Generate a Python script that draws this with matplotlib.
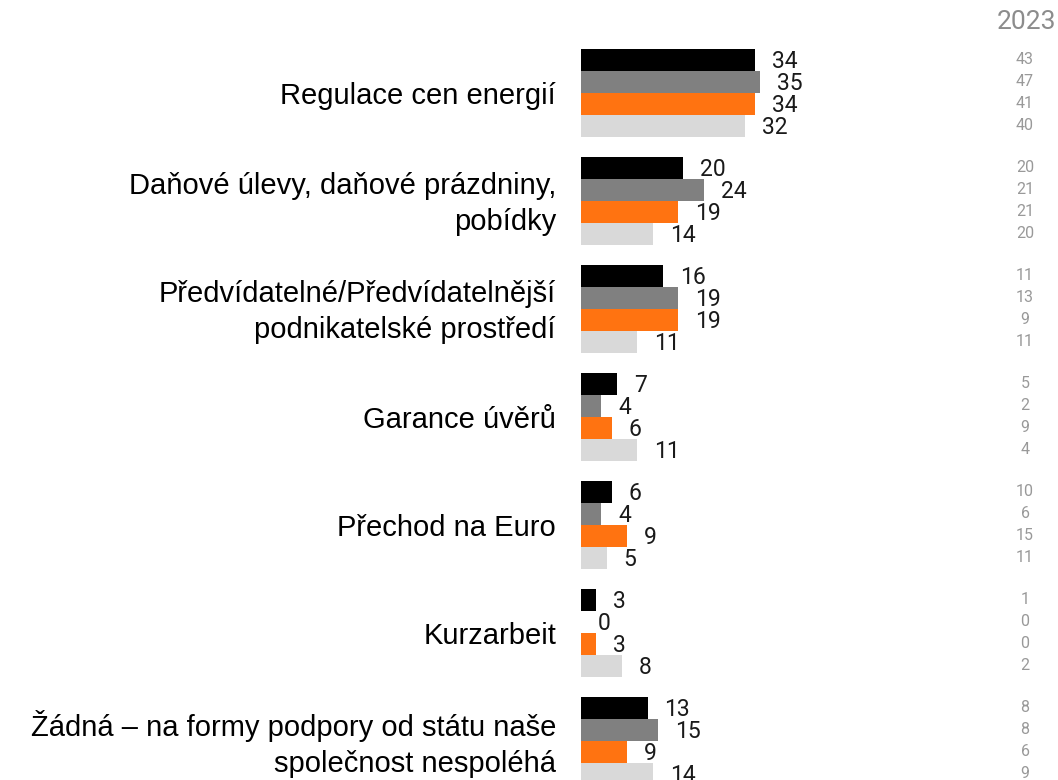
import numpy as np
import matplotlib.pyplot as plt

categories = [
    "Regulace cen energií",
    "Daňové úlevy, daňové prázdniny,\npobídky",
    "Předvídatelné/Předvídatelnější\npodnikatelské prostředí",
    "Garance úvěrů",
    "Přechod na Euro",
    "Kurzarbeit",
    "Žádná – na formy podpory od státu naše\nspolečnost nespoléhá",
]
# four series per category (top to bottom)
series_a = [34, 20, 16, 7, 6, 3, 13]
series_b = [35, 24, 19, 4, 4, 0, 15]
series_c = [34, 19, 19, 6, 9, 3, 9]
series_d = [32, 14, 11, 11, 5, 8, 14]
# values shown in the right column (2023)
prev_a = [43, 20, 11, 5, 10, 1, 8]
prev_b = [47, 21, 13, 2, 6, 0, 8]
prev_c = [41, 21, 9, 9, 15, 0, 6]
prev_d = [40, 20, 11, 4, 11, 2, 9]
year_label = "2023"

colors = ["#000000", "#808080", "#FF7311", "#D9D9D9"]

W, H = 1058, 780
fig = plt.figure(figsize=(W / 100, H / 100), dpi=100)
x0 = 581
px_per_unit = 5.12
ax = fig.add_axes([x0 / W, 0, 1 - x0 / W, 1])
ax.set_xlim(0, (W - x0) / px_per_unit)
ax.set_ylim(H, 0)
ax.axis("off")

top0, pitch, bh = 49, 108, 22
series = [series_a, series_b, series_c, series_d]
prev = [prev_a, prev_b, prev_c, prev_d]
off = 17 / px_per_unit
right_x = (1025 - x0) / px_per_unit

for g, cat in enumerate(categories):
    gtop = top0 + g * pitch
    for s in range(4):
        yc = gtop + s * bh + bh / 2
        v = series[s][g]
        ax.barh(yc, v, height=bh, color=colors[s], left=0)
        ax.text(v + off, yc + 2, str(v), ha="left", va="center",
                fontsize=16.5, family="Roboto", color="#1a1a1a", clip_on=False)
        ax.text(right_x, yc, str(prev[s][g]), ha="center", va="center",
                fontsize=11.5, family="Roboto", color="#999999", clip_on=False)
    ax.text(-25 / px_per_unit, gtop + 2 * bh + 3, cat, ha="right", va="center",
            fontsize=21, family="Liberation Sans", linespacing=1.36,
            color="#000000", clip_on=False)

ax.text((1056 - x0) / px_per_unit, 22, year_label, ha="right", va="center",
        fontsize=19, family="Roboto", color="#8c8c8c", clip_on=False)

fig.savefig("out.png", dpi=100)
